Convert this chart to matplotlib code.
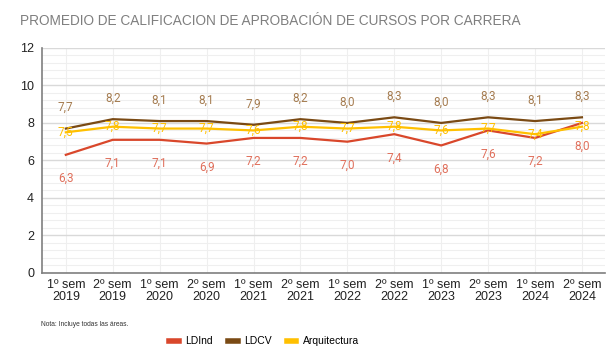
import matplotlib
matplotlib.use("Agg")
import matplotlib.pyplot as plt
from matplotlib.lines import Line2D
from matplotlib.ticker import MultipleLocator
import numpy as np

# Data
periods = ["1º sem\n2019", "2º sem\n2019", "1º sem\n2020", "2º sem\n2020",
           "1º sem\n2021", "2º sem\n2021", "1º sem\n2022", "2º sem\n2022",
           "1º sem\n2023", "2º sem\n2023", "1º sem\n2024", "2º sem\n2024"]
ldind = [6.3, 7.1, 7.1, 6.9, 7.2, 7.2, 7.0, 7.4, 6.8, 7.6, 7.2, 8.0]
ldcv = [7.7, 8.2, 8.1, 8.1, 7.9, 8.2, 8.0, 8.3, 8.0, 8.3, 8.1, 8.3]
arq = [7.5, 7.8, 7.7, 7.7, 7.6, 7.8, 7.7, 7.8, 7.6, 7.7, 7.4, 7.8]

series = [
    # name, values, line color, label color, label offset (points)
    ("LDInd", ldind, "#d9472b", "#e0705c", -17),
    ("LDCV", ldcv, "#7a4a14", "#a57c50", 15),
    ("Arquitectura", arq, "#ffc000", "#ffc000", 0),
]

fig = plt.figure(figsize=(6.14, 3.63), dpi=100)
ax = fig.add_axes([0.069, 0.248, 0.917, 0.62])

x = np.arange(len(periods))

# Grid
ax.set_axisbelow(True)
ax.yaxis.set_major_locator(MultipleLocator(2))
ax.yaxis.set_minor_locator(MultipleLocator(0.4))
ax.grid(which="major", axis="y", color="#d9d9d9", lw=1.0)
ax.grid(which="minor", axis="y", color="#efefef", lw=0.8)
ax.grid(which="major", axis="x", color="#efefef", lw=0.8)

for name, vals, lc, tc, off in series:
    ax.plot(x, vals, color=lc, lw=1.6, label=name, zorder=3)

for name, vals, lc, tc, off in series:
    for xi, v in zip(x, vals):
        ax.annotate(f"{v:.1f}".replace(".", ","), (xi, v), xytext=(0, off),
                    textcoords="offset points", ha="center", va="center",
                    fontsize=8.5, color=tc, family="Roboto", zorder=4)

ax.set_xlim(-0.5, len(periods) - 0.5)
ax.set_ylim(0, 12)
ax.set_xticks(x, periods)
ax.tick_params(axis="x", length=0, labelsize=9, pad=4)
ax.tick_params(axis="y", which="both", length=0, labelsize=9, pad=6)
for lab in ax.get_xticklabels() + ax.get_yticklabels():
    lab.set_family("Liberation Sans")
    lab.set_color("#222222")
    lab.set_linespacing(1.0)

for s in ["top", "right"]:
    ax.spines[s].set_visible(False)
for s in ["left", "bottom"]:
    ax.spines[s].set_color("#7f7f7f")
    ax.spines[s].set_linewidth(1.2)

fig.text(0.033, 0.942, "PROMEDIO DE CALIFICACION DE APROBACIÓN DE CURSOS POR CARRERA",
         fontsize=9.8, color="#7f7f7f", family="Liberation Sans", va="center")
fig.text(0.066, 0.106, "Nota: Incluye todas las áreas.", fontsize=4.8,
         color="#333333", family="Liberation Sans", va="center")

handles = [Line2D([0], [0], color=lc, lw=4) for _, _, lc, _, _ in series]
fig.legend(handles, [s[0] for s in series], loc="center", bbox_to_anchor=(0.43, 0.06),
           ncol=3, frameon=False, handlelength=0.9, handletextpad=0.6,
           columnspacing=1.5, prop={"family": "Liberation Sans", "size": 7.5})

fig.savefig("out.png", dpi=100)
